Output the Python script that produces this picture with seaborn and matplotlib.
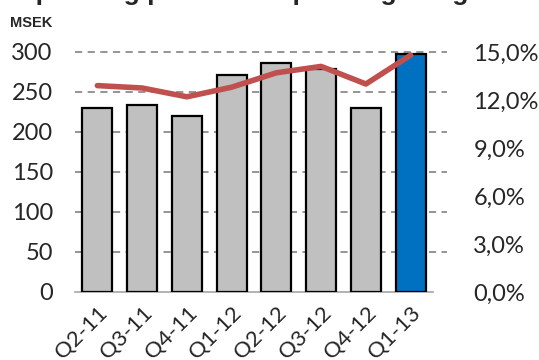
import numpy as np
import matplotlib
matplotlib.use("Agg")
import matplotlib.pyplot as plt
import seaborn as sns

# data
quarters = ["Q2-11", "Q3-11", "Q4-11", "Q1-12", "Q2-12", "Q3-12", "Q4-12", "Q1-13"]
profit = [230, 234, 220, 271, 286, 279, 230, 297]          # MSEK
margin = [12.9, 12.75, 12.2, 12.8, 13.7, 14.1, 13.0, 14.8]  # %

bar_colors = ["#C0C0C0"] * 7 + ["#0070C0"]
line_color = "#C0504D"

sns.set_style("white")
plt.rcParams["font.family"] = ["Lato", "DejaVu Sans"]

fig = plt.figure(figsize=(5.39, 3.60), dpi=100)
ax = fig.add_axes([75 / 539, 1 - 292 / 360, (433 - 75) / 539, (292 - 52) / 360])

sns.barplot(x=quarters, y=profit, hue=quarters, palette=bar_colors, legend=False,
            saturation=1, edgecolor="black", linewidth=1.6, width=0.67, ax=ax, zorder=3)

ax.set_xlim(-0.5, 7.5)
ax.set_ylim(0, 300)
ax.set_yticks(np.arange(0, 301, 50))
for v in range(50, 301, 50):
    ax.axhline(v, xmin=0, xmax=1.04, color="#8C8C8C", lw=1.3, ls=(0, (4, 3)),
               zorder=1, clip_on=False)

for s in ["top", "right", "left"]:
    ax.spines[s].set_visible(False)
ax.spines["bottom"].set_color("#A6A6A6")
ax.spines["bottom"].set_linewidth(1.2)

ax.set_xticks(np.arange(8))
ax.set_xticklabels(quarters, rotation=45, ha="right", rotation_mode="anchor", fontsize=16)
ax.set_xticks(np.arange(-0.5, 8, 1), minor=True)
ax.tick_params(axis="x", which="major", length=0, pad=8)
ax.tick_params(axis="x", which="minor", length=6, color="#A6A6A6", width=1.2)
ax.tick_params(axis="y", length=0, labelsize=17, pad=16)
ax.set_xlabel("")
ax.set_ylabel("")

ax2 = ax.twinx()
sns.lineplot(x=np.arange(8), y=margin, color=line_color, lw=4, ax=ax2,
             solid_capstyle="round", zorder=4)
ax2.set_ylim(0, 15)
ax2.set_yticks(np.arange(0, 15.1, 3))
ax2.set_yticklabels([f"{v:.1f}%".replace(".", ",") for v in np.arange(0, 15.1, 3)])
ax2.tick_params(axis="y", length=0, labelsize=17, pad=29)
for s in ax2.spines.values():
    s.set_visible(False)
ax2.set_xlim(-0.5, 7.5)

fig.text(10 / 539, 1 - 27 / 360, "MSEK", fontsize=10.5, fontweight="bold",
         family=["Liberation Sans", "DejaVu Sans"])
# title sits just above the frame, only its descenders show
fig.text(15 / 539, 1.0, "Operating profit and operating margin", fontsize=19,
         fontweight="bold", va="baseline", family=["Liberation Sans", "DejaVu Sans"])

fig.savefig("out.png", dpi=100)
